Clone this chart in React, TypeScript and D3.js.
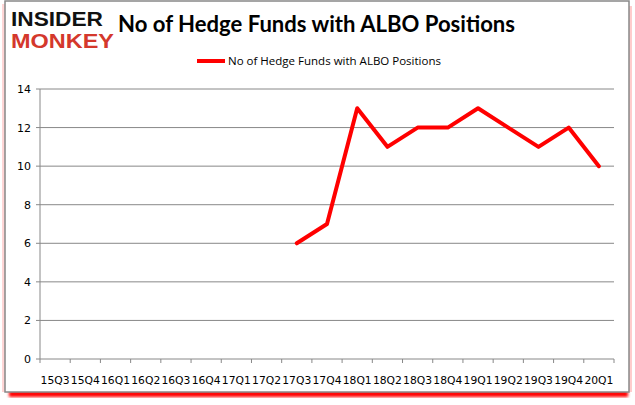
import React, { useEffect, useRef } from "react";
import * as d3 from "d3";

const quarters = [
  "15Q3", "15Q4", "16Q1", "16Q2", "16Q3", "16Q4", "17Q1", "17Q2", "17Q3", "17Q4",
  "18Q1", "18Q2", "18Q3", "18Q4", "19Q1", "19Q2", "19Q3", "19Q4", "20Q1",
];
const fundCounts: (number | null)[] = [
  null, null, null, null, null, null, null, null, 6, 7,
  13, 11, 12, 12, 13, 12, 11, 12, 10,
];
const yTicks = [0, 2, 4, 6, 8, 10, 12, 14];
const seriesName = "No of Hedge Funds with ALBO Positions";

const App: React.FC = () => {
  const svgRef = useRef<SVGSVGElement>(null);

  useEffect(() => {
    const width = 635;
    const height = 405;
    const svg = d3.select(svgRef.current).attr("width", width).attr("height", height);
    svg.selectAll("*").remove();

    // frame with red shadow
    const defs = svg.append("defs");
    defs.append("filter").attr("id", "blur").append("feGaussianBlur").attr("stdDeviation", 1.5);
    svg.append("rect").attr("x", 9).attr("y", 391).attr("width", 619).attr("height", 6)
      .attr("fill", "#ff0000").attr("filter", "url(#blur)");
    svg.append("rect").attr("x", 629).attr("y", 6).attr("width", 3).attr("height", 386)
      .attr("fill", "#ffcccc");
    svg.append("rect").attr("x", 2).attr("y", 4).attr("width", 3).attr("height", 388)
      .attr("fill", "#ffd6d6");
    svg.append("rect").attr("x", 5).attr("y", 1).attr("width", 624).attr("height", 391)
      .attr("fill", "#fff").attr("stroke", "#888").attr("stroke-width", 1.5);

    // logo
    svg.append("text").attr("x", 11).attr("y", 26).text("INSIDER")
      .attr("font-family", "'Liberation Sans'").attr("font-weight", "bold").attr("font-size", 20.5)
      .attr("textLength", 92).attr("lengthAdjust", "spacingAndGlyphs").attr("fill", "#111");
    svg.append("text").attr("x", 11).attr("y", 48).text("MONKEY")
      .attr("font-family", "'Liberation Sans'").attr("font-weight", "bold").attr("font-size", 20.5)
      .attr("textLength", 103).attr("lengthAdjust", "spacingAndGlyphs").attr("fill", "#d4382c");

    // title
    svg.append("text").attr("x", 118).attr("y", 32).text(seriesName)
      .attr("font-family", "Lato, 'Open Sans', sans-serif").attr("font-weight", "bold")
      .attr("font-size", 22).attr("textLength", 397).attr("lengthAdjust", "spacingAndGlyphs")
      .attr("fill", "#000");

    // legend
    svg.append("line").attr("x1", 197).attr("x2", 225).attr("y1", 61).attr("y2", 61)
      .attr("stroke", "#ff0000").attr("stroke-width", 4);
    svg.append("text").attr("x", 228).attr("y", 65).text(seriesName)
      .attr("font-family", "'Open Sans', sans-serif").attr("font-size", 11)
      .attr("textLength", 213).attr("lengthAdjust", "spacingAndGlyphs").attr("fill", "#000");

    const x = d3.scaleBand<string>().domain(quarters).range([40, 614]);
    const y = d3.scaleLinear().domain([0, 14]).range([359, 89]);

    // gridlines
    svg.append("g").selectAll("line").data(yTicks.filter(t => t > 0)).enter().append("line")
      .attr("x1", 40).attr("x2", 614).attr("y1", d => y(d)).attr("y2", d => y(d))
      .attr("stroke", "#888").attr("stroke-width", 1);

    // y axis
    svg.append("line").attr("x1", 40).attr("x2", 40).attr("y1", y(14)).attr("y2", y(0))
      .attr("stroke", "#888");
    const yg = svg.append("g").selectAll("g").data(yTicks).enter().append("g");
    yg.append("line").attr("x1", 36).attr("x2", 40).attr("y1", d => y(d)).attr("y2", d => y(d))
      .attr("stroke", "#888");
    yg.append("text").attr("x", 31).attr("y", d => y(d) + 4).attr("text-anchor", "end")
      .text(d => d).attr("font-family", "'DejaVu Sans', sans-serif").attr("font-size", 11)
      .attr("fill", "#000");

    // x axis
    svg.append("line").attr("x1", 40).attr("x2", 614).attr("y1", y(0)).attr("y2", y(0))
      .attr("stroke", "#888");
    const edges = quarters.map(q => x(q) as number).concat([614]);
    svg.append("g").selectAll("line").data(edges).enter().append("line")
      .attr("x1", d => d).attr("x2", d => d).attr("y1", y(0)).attr("y2", y(0) + 4)
      .attr("stroke", "#888");
    svg.append("g").selectAll("text").data(quarters).enter().append("text")
      .attr("x", d => (x(d) as number) + x.bandwidth() / 2).attr("y", 384)
      .attr("text-anchor", "middle").text(d => d)
      .attr("font-family", "'DejaVu Sans', sans-serif").attr("font-size", 10)
      .attr("textLength", 29).attr("lengthAdjust", "spacingAndGlyphs").attr("fill", "#000");

    // series line
    const pts = quarters.map((q, i) => ({ q, v: fundCounts[i] }));
    const line = d3.line<{ q: string; v: number | null }>()
      .defined(d => d.v !== null)
      .x(d => (x(d.q) as number) + x.bandwidth() / 2)
      .y(d => y(d.v as number));
    svg.append("path").datum(pts).attr("d", line).attr("fill", "none")
      .attr("stroke", "#ff0000").attr("stroke-width", 4).attr("stroke-linejoin", "round")
      .attr("stroke-linecap", "round");
  }, []);

  return (
    <div style={{ position: "absolute", left: 0, top: 0 }}>
      <svg ref={svgRef}></svg>
    </div>
  );
};

export default App;
